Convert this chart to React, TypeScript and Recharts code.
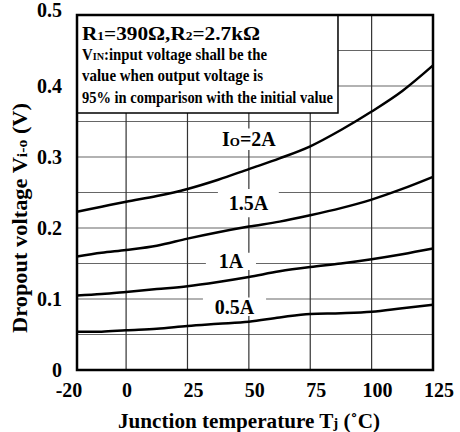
import { LineChart, Line, XAxis, YAxis, ReferenceArea } from 'recharts'

const temps = [-20, -10, 0, 12.5, 25, 37.5, 50, 62.5, 75, 87.5, 100, 112.5, 125]
const io2A = [0.223, 0.23, 0.237, 0.245, 0.255, 0.268, 0.283, 0.298, 0.315, 0.338, 0.364, 0.393, 0.429]
const io15A = [0.16, 0.165, 0.169, 0.175, 0.185, 0.194, 0.202, 0.209, 0.218, 0.228, 0.24, 0.255, 0.272]
const io1A = [0.105, 0.107, 0.11, 0.114, 0.118, 0.124, 0.131, 0.139, 0.145, 0.15, 0.156, 0.163, 0.171]
const io05A = [0.054, 0.054, 0.056, 0.058, 0.062, 0.065, 0.068, 0.074, 0.079, 0.08, 0.082, 0.087, 0.092]

const xTicks = [-20, 0, 25, 50, 75, 100, 125]
const yTicks = [0, 0.1, 0.2, 0.3, 0.4, 0.5]
const gridX = [0, 25, 50, 75, 100]
const gridY = [0.05, 0.1, 0.15, 0.2, 0.25, 0.3, 0.35, 0.4, 0.45]

const data = temps.map((t, i) => ({ t, a2: io2A[i], a15: io15A[i], a1: io1A[i], a05: io05A[i] }))

const FONT = '"Liberation Serif", "Times New Roman", serif'

// chart frame, shared by the chart margins and the grid layer behind it
const W = 460
const H = 432
const M = { top: 15, right: 27, left: 77, bottom: 62 }
const X_DOM = [-20, 125]
const Y_DOM = [0, 0.5]
const px = (x: number) => M.left + ((x - X_DOM[0]) / (X_DOM[1] - X_DOM[0])) * (W - M.left - M.right)
const py = (y: number) => H - M.bottom - ((y - Y_DOM[0]) / (Y_DOM[1] - Y_DOM[0])) * (H - M.top - M.bottom)

// boxes (data coords) that blank the grid behind the note and curve tags
const noteBox = { x1: -20, x2: 86.3, y1: 0.362, y2: 0.5 }
const tagBoxes = [
  { id: '2A', x1: 37, x2: 63, y1: 0.31, y2: 0.34 },
  { id: '1.5A', x1: 37.4, x2: 62.2, y1: 0.215, y2: 0.255 },
  { id: '1A', x1: 32.5, x2: 52.9, y1: 0.141, y2: 0.165 },
  { id: '0.5A', x1: 31.3, x2: 57, y1: 0.076, y2: 0.102 },
]
const blanks = [noteBox, ...tagBoxes]

function cut(lo: number, hi: number, gaps: [number, number][]) {
  let parts: [number, number][] = [[lo, hi]]
  gaps.forEach(([a, b]) => {
    const next: [number, number][] = []
    parts.forEach(([p, q]) => {
      if (b <= p || a >= q) next.push([p, q])
      else {
        if (a > p) next.push([p, a])
        if (b < q) next.push([b, q])
      }
    })
    parts = next
  })
  return parts
}

const hSegs = gridY.flatMap((v) =>
  cut(X_DOM[0], X_DOM[1], blanks.filter((b) => v > b.y1 && v < b.y2).map((b) => [b.x1, b.x2] as [number, number])).map(
    ([a, b]) => ({ v, a, b })
  )
)
const vSegs = gridX.flatMap((v) =>
  cut(Y_DOM[0], Y_DOM[1], blanks.filter((b) => v > b.x1 && v < b.x2).map((b) => [b.y1, b.y2] as [number, number])).map(
    ([a, b]) => ({ v, a, b })
  )
)

function XTick({ x, y, payload }: any) {
  const v = payload.value
  const dx = v === -20 ? -8 : v === 0 ? 1 : 6
  return (
    <text x={x + dx} y={y + 27} textAnchor="middle" fontFamily={FONT} fontWeight="bold" fontSize={20} fill="#000">
      {v}
    </text>
  )
}

function YTick({ x, y, payload }: any) {
  const v = payload.value
  const dy = v === 0.5 ? -5 : 0
  return (
    <text x={x - 15} y={y + 7 + dy} textAnchor="end" fontFamily={FONT} fontWeight="bold" fontSize={20} fill="#000">
      {v === 0 ? '0' : v.toFixed(1)}
    </text>
  )
}

function Tag({ viewBox, children }: any) {
  if (!viewBox) return null
  const cx = viewBox.x + viewBox.width / 2
  const cy = viewBox.y + viewBox.height / 2
  return (
    <text x={cx} y={cy + 7} textAnchor="middle" fontFamily={FONT} fontWeight="bold" fontSize={20} fill="#000">
      {children}
    </text>
  )
}

function Note({ viewBox }: any) {
  if (!viewBox) return null
  const x = viewBox.x + 5
  const y = viewBox.y
  return (
    <g fontFamily={FONT} fontWeight="bold" fill="#000">
      <text x={x} y={y + 25} fontSize={19} textLength={178} lengthAdjust="spacingAndGlyphs">
        R<tspan fontSize={12}>1</tspan>=390Ω,R<tspan fontSize={12}>2</tspan>=2.7kΩ
      </text>
      <text x={x} y={y + 45} fontSize={16} textLength={185} lengthAdjust="spacingAndGlyphs">
        V<tspan fontSize={11}>IN</tspan>:input voltage shall be the
      </text>
      <text x={x} y={y + 66} fontSize={16} textLength={181} lengthAdjust="spacingAndGlyphs">
        value when output voltage is
      </text>
      <text x={x} y={y + 88} fontSize={16} textLength={251} lengthAdjust="spacingAndGlyphs">
        95% in comparison with the initial value
      </text>
    </g>
  )
}

const tagText: Record<string, any> = {
  '2A': <>I<tspan fontSize={13}>O</tspan>=2A</>,
  '1.5A': '1.5A',
  '1A': '1A',
  '0.5A': '0.5A',
}

export default function App() {
  return (
    <div style={{ position: 'absolute', left: 0, top: 0, width: W, height: H, background: '#fff' }}>
      <svg width={W} height={H} style={{ position: 'absolute', left: 0, top: 0 }}>
        {hSegs.map((s, i) => (
          <line key={'h' + i} x1={px(s.a)} x2={px(s.b)} y1={py(s.v)} y2={py(s.v)} stroke="#666" strokeWidth={1.2} />
        ))}
        {vSegs.map((s, i) => (
          <line key={'v' + i} x1={px(s.v)} x2={px(s.v)} y1={py(s.a)} y2={py(s.b)} stroke="#333" strokeWidth={1.2} />
        ))}
      </svg>
      <div style={{ position: 'absolute', left: 0, top: 0 }}>
        <LineChart width={W} height={H} data={data} margin={{ top: M.top, right: M.right, bottom: 0, left: 0 }}>
          <XAxis
            dataKey="t"
            type="number"
            domain={X_DOM}
            ticks={xTicks}
            height={M.bottom}
            axisLine={false}
            tickLine={false}
            tickSize={0}
            tickMargin={0}
            tick={<XTick />}
            interval={0}
          />
          <YAxis
            type="number"
            domain={Y_DOM}
            ticks={yTicks}
            width={M.left}
            axisLine={false}
            tickLine={false}
            tickSize={0}
            tickMargin={0}
            tick={<YTick />}
            interval={0}
          />
          <ReferenceArea {...noteBox} fill="none" stroke="#000" strokeWidth={1.5} label={<Note />} />
          {tagBoxes.map((b) => (
            <ReferenceArea key={b.id} x1={b.x1} x2={b.x2} y1={b.y1} y2={b.y2} fill="none" stroke="none"
              label={<Tag>{tagText[b.id]}</Tag>} />
          ))}
          <ReferenceArea x1={-20} x2={125} y1={0} y2={0.5} fill="none" stroke="#000" strokeWidth={2.5} />
          <Line dataKey="a2" type="monotone" stroke="#000" strokeWidth={2.5} dot={false} isAnimationActive={false} />
          <Line dataKey="a15" type="monotone" stroke="#000" strokeWidth={2.5} dot={false} isAnimationActive={false} />
          <Line dataKey="a1" type="monotone" stroke="#000" strokeWidth={2.5} dot={false} isAnimationActive={false} />
          <Line dataKey="a05" type="monotone" stroke="#000" strokeWidth={2.5} dot={false} isAnimationActive={false} />
        </LineChart>
      </div>
      <svg width={W} height={H} style={{ position: 'absolute', left: 0, top: 0, pointerEvents: 'none' }}>
        <text transform="rotate(-90, 27, 218)" x={27} y={218} textAnchor="middle" fontFamily={FONT} fontWeight="bold"
          fontSize={20} textLength={230} lengthAdjust="spacingAndGlyphs" fill="#000">
          Dropout voltage V<tspan fontSize={14}>i-o</tspan> (V)
        </text>
        <text x={249} y={428} textAnchor="middle" fontFamily={FONT} fontWeight="bold" fontSize={20}
          textLength={262} lengthAdjust="spacingAndGlyphs" fill="#000">
          Junction temperature T<tspan fontSize={14}>j</tspan> (˚C)
        </text>
      </svg>
    </div>
  )
}
